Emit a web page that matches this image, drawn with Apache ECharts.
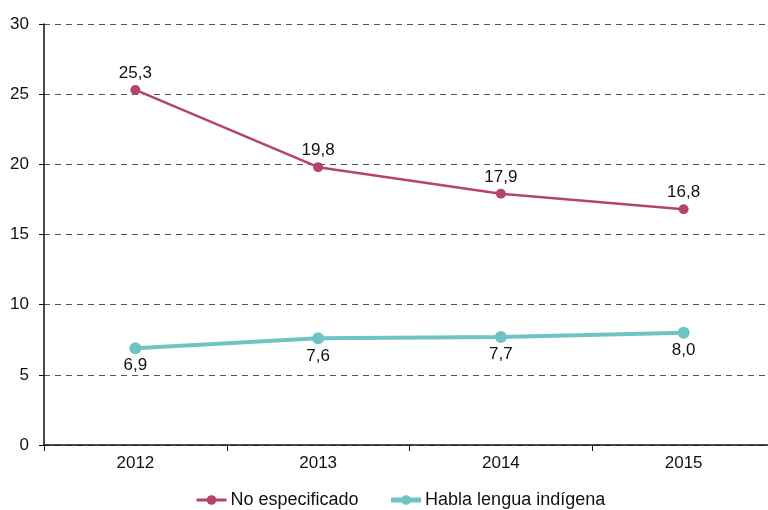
<!DOCTYPE html>
<html>
<head>
<meta charset="utf-8">
<script src="https://cdn.jsdelivr.net/npm/echarts@6/dist/echarts.min.js"></script>
<style>
  html, body { margin: 0; padding: 0; background: #fff; overflow: hidden; }
  #chart { width: 775px; height: 510px; }
</style>
</head>
<body>
<div id="chart"></div>
<script>
var years = ['2012', '2013', '2014', '2015'];
var noEspecificado = [25.3, 19.8, 17.9, 16.8];
var hablaLengua = [6.9, 7.6, 7.7, 8.0];
var yTicks = [0, 5, 10, 15, 20, 25, 30];

var fmt = function (p) { return p.value.toFixed(1).replace('.', ','); };

var myChart = echarts.init(document.getElementById('chart'));
myChart.setOption({
  animation: false,
  textStyle: { fontFamily: 'Liberation Sans, Arial, sans-serif' },
  grid: { left: 44, top: 24, right: 0, height: 421 },
  legend: {
    bottom: 1,
    left: 195,
    padding: 0,
    itemWidth: 30,
    itemHeight: 12,
    itemGap: 30,
    textStyle: { color: '#111', fontSize: 18, padding: [0, 0, 0, -1] },
    data: [
      { name: 'No especificado', lineStyle: { width: 3 } },
      { name: 'Habla lengua indígena', lineStyle: { width: 5 } }
    ]
  },
  xAxis: {
    type: 'category',
    data: years,
    boundaryGap: true,
    axisLine: { lineStyle: { color: '#111', width: 1.5 } },
    axisTick: { show: true, length: 6, lineStyle: { color: '#111' } },
    axisLabel: { color: '#111', fontSize: 17, margin: 10 }
  },
  yAxis: {
    type: 'value',
    min: yTicks[0],
    max: yTicks[yTicks.length - 1],
    interval: 5,
    axisLine: { show: true, lineStyle: { color: '#111', width: 1.5 } },
    axisTick: { show: true, length: 5, lineStyle: { color: '#111' } },
    axisLabel: { color: '#111', fontSize: 17, margin: 15 },
    splitLine: { lineStyle: { color: '#555', type: [6, 5], width: 1 } }
  },
  series: [
    {
      name: 'No especificado',
      type: 'line',
      data: noEspecificado,
      symbol: 'circle',
      symbolSize: 10,
      color: '#B5436E',
      lineStyle: { width: 2.5, color: '#B5436E' },
      label: { show: true, position: 'top', color: '#111', fontSize: 17, distance: 3, formatter: fmt }
    },
    {
      name: 'Habla lengua indígena',
      type: 'line',
      data: hablaLengua,
      symbol: 'circle',
      symbolSize: 12,
      color: '#6FC3C3',
      lineStyle: { width: 4, color: '#6FC3C3' },
      label: { show: true, position: 'bottom', color: '#111', fontSize: 17, distance: 3, formatter: fmt }
    }
  ]
});
</script>
</body>
</html>
